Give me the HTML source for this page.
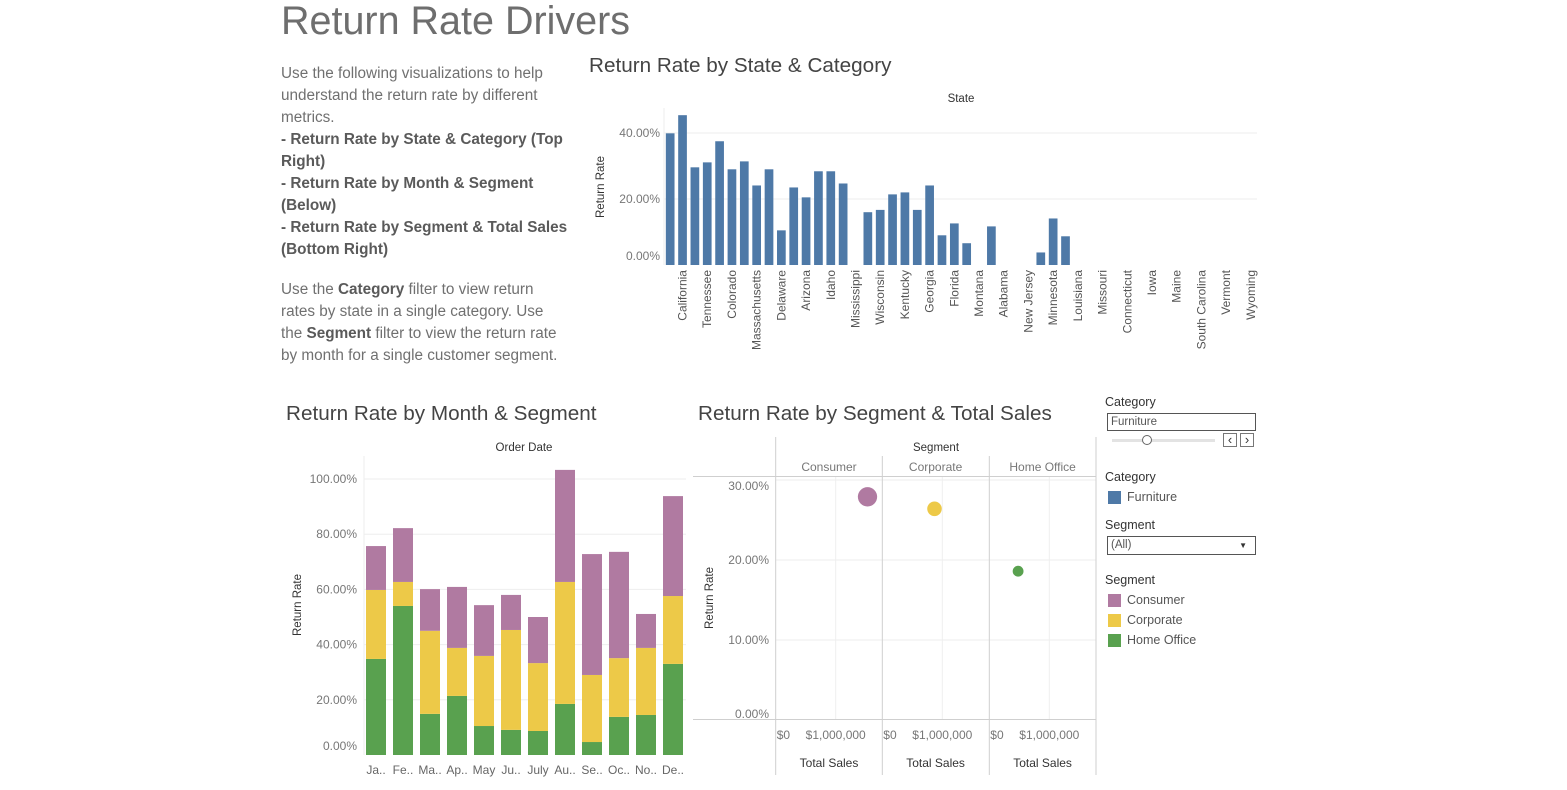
<!DOCTYPE html>
<html><head><meta charset="utf-8">
<style>
html,body{margin:0;padding:0;background:#fff;width:1567px;height:790px;overflow:hidden;font-family:"Liberation Sans",sans-serif;}
#wrap{position:relative;width:1567px;height:790px;}
.t{position:absolute;white-space:nowrap;}
.txt{position:absolute;left:281px;font-size:15.3px;color:#707070;white-space:nowrap;line-height:22px;}
.txt b{color:#5a5a5a;font-weight:bold;}
.lbl{position:absolute;font-size:12.5px;color:#333;white-space:nowrap;}
.box{position:absolute;border:1px solid #555;background:#fff;font-size:11.5px;color:#555;box-sizing:border-box;padding-left:3px;}
.sw{position:absolute;width:13px;height:13px;}
</style></head>
<body><div id="wrap">
<div class="t" style="left:281px;top:-1px;font-size:39.5px;color:#6e6e6e;">Return Rate Drivers</div>

<div class="txt" style="top:63px;">
Use the following visualizations to help<br>understand the return rate by different<br>metrics.<br><b>- Return Rate by State &amp; Category (Top</b><br><b>Right)</b><br><b>- Return Rate by Month &amp; Segment</b><br><b>(Below)</b><br><b>- Return Rate by Segment &amp; Total Sales</b><br><b>(Bottom Right)</b><br><span style="display:block;height:18px"></span>Use the <b>Category</b> filter to view return<br>rates by state in a single category. Use<br>the <b>Segment</b> filter to view the return rate<br>by month for a single customer segment.
</div>

<div class="t" style="left:589px;top:54px;font-size:20.7px;color:#444;">Return Rate by State &amp; Category</div>
<div class="t" style="left:286px;top:402px;font-size:20.7px;color:#444;">Return Rate by Month &amp; Segment</div>
<div class="t" style="left:698px;top:402px;font-size:20.7px;color:#444;">Return Rate by Segment &amp; Total Sales</div>

<svg id="chart" width="1567" height="790" style="position:absolute;left:0;top:0" font-family="Liberation Sans, sans-serif"></svg>

<div class="lbl" style="left:1105px;top:395px;">Category</div>
<div class="box" style="left:1107px;top:413px;width:149px;height:18px;line-height:16px;">Furniture</div>
<div style="position:absolute;left:1112px;top:439px;width:103px;height:3px;background:#e3e3e3;"></div>
<div style="position:absolute;left:1142px;top:435px;width:8px;height:8px;border:1px solid #666;border-radius:50%;background:#fff;"></div>
<div style="position:absolute;left:1223px;top:433px;width:12px;height:12px;border:1px solid #777;font-size:13px;line-height:11px;text-align:center;color:#333;">&lsaquo;</div>
<div style="position:absolute;left:1240px;top:433px;width:12px;height:12px;border:1px solid #777;font-size:13px;line-height:11px;text-align:center;color:#333;">&rsaquo;</div>

<div class="lbl" style="left:1105px;top:470px;">Category</div>
<div class="sw" style="left:1108px;top:491px;background:#4e79a7;"></div>
<div class="lbl" style="left:1127px;top:490px;color:#555;">Furniture</div>

<div class="lbl" style="left:1105px;top:518px;">Segment</div>
<div class="box" style="left:1107px;top:536px;width:149px;height:19px;line-height:17px;">(All)<span style="position:absolute;right:8px;font-size:8px;color:#333;">&#9660;</span></div>

<div class="lbl" style="left:1105px;top:573px;">Segment</div>
<div class="sw" style="left:1108px;top:594px;background:#b07aa1;"></div>
<div class="lbl" style="left:1127px;top:593px;color:#555;">Consumer</div>
<div class="sw" style="left:1108px;top:614px;background:#edc948;"></div>
<div class="lbl" style="left:1127px;top:613px;color:#555;">Corporate</div>
<div class="sw" style="left:1108px;top:634px;background:#59a14f;"></div>
<div class="lbl" style="left:1127px;top:633px;color:#555;">Home Office</div>
</div>

<script>
// ---- State chart data ----
const states = ["New York","California","Texas","Tennessee","Washington","Colorado","Pennsylvania","Massachusetts","Ohio","Delaware","Illinois","Arizona","Michigan","Idaho","Indiana","Mississippi","Virginia","Wisconsin","Oregon","Kentucky","North Carolina","Georgia","Utah","Florida","Nevada","Montana","Rhode Island","Alabama","New Mexico","New Jersey","Arkansas","Minnesota","Maryland","Louisiana","Oklahoma","Missouri","Nebraska","Connecticut","Kansas","Iowa","New Hampshire","Maine","South Dakota","South Carolina","North Dakota","Vermont","West Virginia","Wyoming"];
const stateRates = [39.9,45.4,29.6,31.1,37.5,29,31.4,24.1,29,10.5,23.5,20.5,28.4,28.4,24.7,0,16,16.7,21.4,22,16.7,24.1,9,12.6,6.6,0,11.7,0,0,0,3.8,14.1,8.7,0,0,0,0,0,0,0,0,0,0,0,0,0,0,0];
const stateTicks = [0,20,40];
// ---- Month chart data ----
const months = ["Ja..","Fe..","Ma..","Ap..","May","Ju..","July","Au..","Se..","Oc..","No..","De.."];
const homeOffice = [34.8,54,14.9,21.4,10.5,9.1,8.7,18.5,4.7,13.8,14.5,33];
const corporate = [25,8.7,30.1,17.4,25.4,36.2,24.6,44.2,24.3,21.3,24.3,24.6];
const consumer = [15.9,19.5,15.1,22.1,18.4,12.7,16.7,40.6,43.8,38.5,12.3,36.2];
const monthTicks = [0,20,40,60,80,100];
// ---- Segment scatter data ----
const segments = ["Consumer","Corporate","Home Office"];
const segSales = [1530000,870000,480000];
const segRates = [27.9,26.4,18.6];
const segTicks = [0,10,20,30];
const salesTicks = [0,1000000];

const NS="http://www.w3.org/2000/svg";
const svg=document.getElementById('chart');
function mk(tag,attrs,parent){const e=document.createElementNS(NS,tag);for(const k in attrs)e.setAttribute(k,attrs[k]);(parent||svg).appendChild(e);return e;}
function txt(x,y,s,attrs){const e=mk('text',Object.assign({x:x,y:y},attrs||{}));e.textContent=s;return e;}
const pct=v=>v.toFixed(2)+'%';

// ===== State chart =====
const sX0=664,sX1=1257,sZero=265,sPer=3.3;
const sY=v=>sZero-v*sPer;
const band=(sX1-sX0)/states.length;
const sX=i=>sX0+band*i+band/2;
stateTicks.forEach(t=>{
  if(t>0){const g=mk('line',{x1:sX0,x2:sX1,y1:sY(t),y2:sY(t),stroke:'#eeeeee'});
  
  }
  const l=txt(660,sY(t)+4-(t===0?9:0),pct(t),{'text-anchor':'end','font-size':12,fill:'#777'});
  
  
});
{const a=mk('line',{x1:sX0,x2:sX0,y1:108,y2:sZero,stroke:'#ededed'});

}
stateRates.forEach((v,i)=>{
  const r=mk('rect',{x:sX(i)-4.35,y:sY(v),width:8.7,height:v*sPer,fill:'#4e79a7'});
  
  
  if(i%2===1){
    const l=txt(0,0,states[i],{'font-size':12,fill:'#555','text-anchor':'end',transform:`translate(${sX(i)+4},270) rotate(-90)`});
    
    
  }
});
{const t=txt(961,102,'State',{'text-anchor':'middle','font-size':11.5,fill:'#333'});

const y=txt(0,0,'Return Rate',{'text-anchor':'middle','font-size':11.5,fill:'#333',transform:'translate(604,187) rotate(-90)'});
}

// ===== Month chart =====
const mX0=364,mStep=27,mZero=755,mPer=2.76;
const mY=v=>mZero-v*mPer;
monthTicks.forEach(t=>{
  if(t>0){const g=mk('line',{x1:mX0,x2:686,y1:mY(t),y2:mY(t),stroke:'#eeeeee'});
  
  }
  const l=txt(357,mY(t)+4-(t===0?9:0),pct(t),{'text-anchor':'end','font-size':12,fill:'#777'});
  
  
});
{const a=mk('line',{x1:mX0,x2:mX0,y1:456,y2:mZero,stroke:'#ededed'});
}
const mCx=i=>mX0+12+mStep*i;
months.forEach((m,i)=>{
  let base=0;
  [[homeOffice,'#59a14f','home-office'],[corporate,'#edc948','corporate'],[consumer,'#b07aa1','consumer']].forEach(([arr,c,n])=>{
    const v=arr[i];
    const r=mk('rect',{x:mCx(i)-10,y:mY(base+v),width:20,height:v*mPer,fill:c});
    
    
    base+=v;
  });
  const l=txt(mCx(i),774,m,{'text-anchor':'middle','font-size':12,fill:'#666'});
  
  
});
{const t=txt(524,451,'Order Date',{'text-anchor':'middle','font-size':11.5,fill:'#333'});

const y=txt(0,0,'Return Rate',{'text-anchor':'middle','font-size':11.5,fill:'#333',transform:'translate(301,605) rotate(-90)'});
}

// ===== Segment scatter =====
const pL=[775.7,882.3,989.3],pW=106.6,cZero=720,cPer=8,perM=60;
const cY=v=>cZero-v*cPer;
const cX=(p,s)=>pL[p]+s/1000000*perM;
segTicks.forEach(t=>{
  if(t>0){const g=mk('line',{x1:775.7,x2:1096,y1:cY(t),y2:cY(t),stroke:'#eeeeee'});
  
  }
  const l=txt(769,cY(t)+(t===30?10:4)-(t===0?6:0),pct(t),{'text-anchor':'end','font-size':12,fill:'#777'});
  
  
});
segments.forEach((s,p)=>{
  salesTicks.forEach(v=>{
    if(v>0){const g=mk('line',{x1:cX(p,v),x2:cX(p,v),y1:477,y2:719,stroke:'#eeeeee'});
    
    }
    const l=txt(v===0?pL[p]+1:cX(p,v),739,v===0?'$0':'$1,000,000',{'text-anchor':v===0?'start':'middle','font-size':12,fill:'#777'});
    
    
  });
  const h=txt(pL[p]+pW/2,471,s,{'text-anchor':'middle','font-size':12,fill:'#777'});
  
  
  const ts=txt(pL[p]+pW/2,767,'Total Sales',{'text-anchor':'middle','font-size':12,fill:'#333'});
  
  
});
[[775.7,437],[882.3,456],[989.3,456],[1096,437]].forEach(([x,y1])=>{
  const l=mk('line',{x1:x,x2:x,y1:y1,y2:775,stroke:'#cfcfcf'});
  
  
});
[476.5,719.5].forEach(y=>{
  const l=mk('line',{x1:693,x2:1096,y1:y,y2:y,stroke:'#cfcfcf'});
  
  
});
const segColors=['#b07aa1','#edc948','#59a14f'];
segments.forEach((s,p)=>{
  const c=mk('circle',{cx:cX(p,segSales[p]),cy:cY(segRates[p]),r:7.8*Math.sqrt(segSales[p]/1000000),fill:segColors[p]});
  
  
});
{const t=txt(936,451,'Segment',{'text-anchor':'middle','font-size':11.5,fill:'#333'});

const y=txt(0,0,'Return Rate',{'text-anchor':'middle','font-size':11.5,fill:'#333',transform:'translate(713,598) rotate(-90)'});
}
</script>
</body></html>
